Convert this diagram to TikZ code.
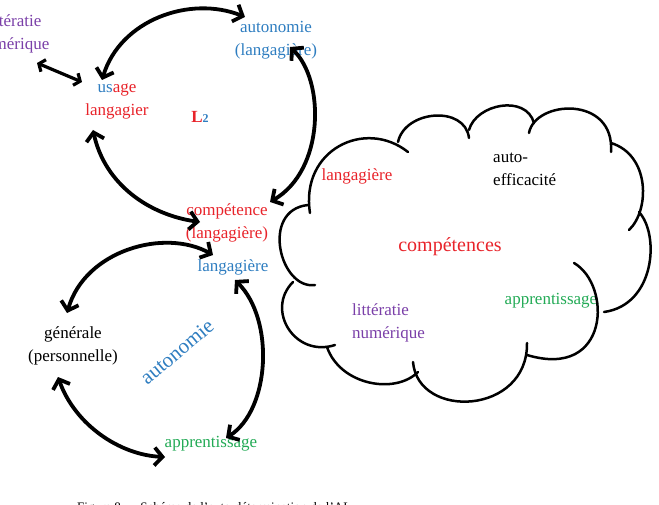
\documentclass[tikz,border=0pt]{standalone}
\usepackage{fontspec}
\setmainfont{Liberation Serif}
\usetikzlibrary{arrows.meta}
\definecolor{cred}{HTML}{E8232A}
\definecolor{cblue}{HTML}{2E7DC0}
\definecolor{cpurple}{HTML}{7A3FA8}
\definecolor{cgreen}{HTML}{22AA55}
\begin{document}
\begin{tikzpicture}[x=1pt,y=-1pt,
  lbl/.style={inner sep=0pt, align=center, font=\fontsize{17}{23}\selectfont},
  link/.style={line width=3.8pt, line cap=round, line join=round,
    {Straight Barb[length=8pt,width=18pt]}-{Straight Barb[length=8pt,width=18pt]}},
  cloudline/.style={line width=2.5pt, line cap=round}]
\useasboundingbox (0,0) rectangle (659,505);

% labels of the cycle
\node[lbl,text=cpurple] (lit) at (13,34) {littératie\\numérique};
\node[lbl,text=cred] (usage) at (117,101) {\textcolor{cblue}{us}age\\langagier};
\node[lbl,text=cred,font=\fontsize{17}{23}\selectfont\bfseries] (L2) at (200,117) {L\textcolor{cblue}{\fontsize{12}{12}\selectfont 2}};
\node[lbl,text=cblue] (autoL) at (276,40) {autonomie\\(langagière)};
\node[lbl,text=cred] (compL) at (227,223) {compétence\\(langagière)};
\node[lbl,text=cblue] (lang) at (233,267) {langagière};
\node[lbl] (gen) at (73,346) {générale\\(personnelle)};
\node[lbl,text=cblue,font=\fontsize{21}{21}\selectfont,rotate=40] (autoG) at (177,352) {autonomie};
\node[lbl,text=cgreen] (appr) at (211,444) {apprentissage};

% cloud labels
\node[lbl,text=cred] (cl) at (357,176) {langagière};
\node[lbl,align=left,anchor=west] (ca) at (493,169) {auto-\\efficacité};
\node[lbl,text=cred,font=\fontsize{20}{20}\selectfont] (cc) at (450,247) {compétences};
\node[lbl,text=cpurple,align=left,anchor=west] (cn) at (352,323) {littératie\\numérique};
\node[lbl,text=cgreen] (cap) at (551,301) {apprentissage};

% caption (cut by the page edge)
\node[anchor=base west,inner sep=0pt,font=\fontsize{13}{13}\selectfont] (fig) at (77,511) {Figure 8 — Schéma de l'auto-détermination de l'AL};

% connector ends
\coordinate (usageTop) at (102,80);
\coordinate (autoLeft) at (245,17);
\coordinate (autoBottom) at (290,47);
\coordinate (compRight) at (270,202);
\coordinate (usageBottom) at (93,130);
\coordinate (compLeft) at (200,222);
\coordinate (genTop) at (67,313);
\coordinate (langLeft) at (213,255);
\coordinate (langBottom) at (235,280);
\coordinate (apprTop) at (226,438);
\coordinate (genBottom) at (58,377);
\coordinate (apprLeft) at (165,457);
\coordinate (litEnd) at (37,63);
\coordinate (usageLeft) at (82,82);

% connectors
\draw[link] (usageTop) .. controls (120,20) and (190,-5) .. (autoLeft);
\draw[link] (autoBottom) .. controls (325,80) and (325,170) .. (compRight);
\draw[link] (usageBottom) .. controls (105,185) and (150,215) .. (compLeft);
\draw[link] (genTop) .. controls (85,250) and (165,228) .. (langLeft);
\draw[link] (langBottom) .. controls (275,320) and (270,410) .. (apprTop);
\draw[link] (genBottom) .. controls (75,425) and (120,455) .. (apprLeft);
\draw[link,{Straight Barb[length=5pt,width=13pt]}-{Straight Barb[length=5pt,width=13pt]},line width=3.2pt] (litEnd) -- (usageLeft);

% cloud
\draw[cloudline] (310,213) .. controls (300,150) and (365,118) .. (408,152);
\draw[cloudline] (398,142) .. controls (405,110) and (465,105) .. (469,138);
\draw[cloudline] (469,130) .. controls (476,104) and (526,94) .. (534,123);
\draw[cloudline] (529,133) .. controls (535,100) and (615,95) .. (611,152);
\draw[cloudline] (611,143) .. controls (650,155) and (650,210) .. (629,230);
\draw[cloudline] (639,212) .. controls (660,235) and (655,305) .. (604,312);
\draw[cloudline] (574,263) .. controls (612,285) and (610,380) .. (527,355);
\draw[cloudline] (527,343) .. controls (528,415) and (418,420) .. (413,362);
\draw[cloudline] (418,372) .. controls (395,395) and (340,385) .. (327,347);
\draw[cloudline] (335,345) .. controls (295,358) and (265,310) .. (293,282);
\draw[cloudline] (315,285) .. controls (280,290) and (260,210) .. (308,205);
\end{tikzpicture}
\end{document}
